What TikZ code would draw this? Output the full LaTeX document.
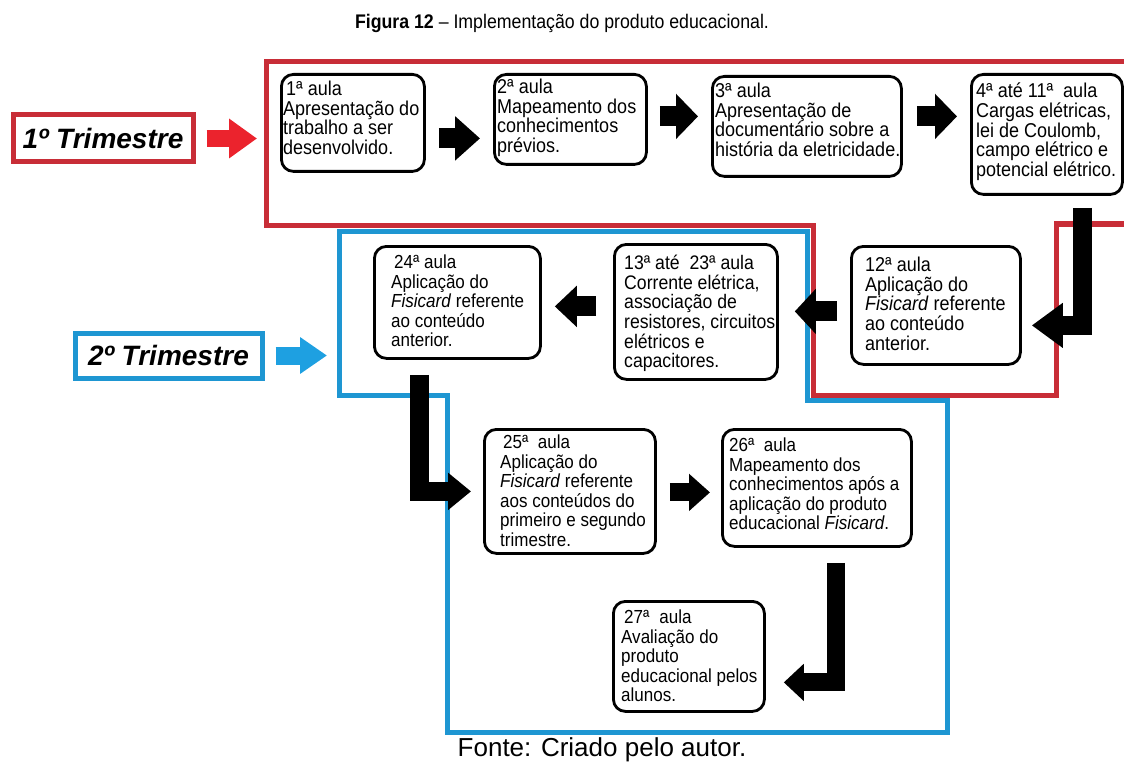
\documentclass[tikz,border=0pt]{standalone}
\usepackage{fontspec}
\setmainfont{Liberation Sans}
\newfontfamily\boxfam{Liberation Sans}[FakeStretch=0.9]
\usetikzlibrary{arrows.meta}
\definecolor{redline}{RGB}{200,45,55}
\definecolor{redarr}{RGB}{235,35,45}
\definecolor{blueline}{RGB}{30,150,210}
\definecolor{bluearr}{RGB}{30,160,225}
\newcommand{\fA}{\boxfam\fontsize{20}{19.6}\selectfont}
\newcommand{\fB}{\boxfam\fontsize{19.6}{19.6}\selectfont}
\newcommand{\fC}{\boxfam\fontsize{18.9}{19.5}\selectfont}
\begin{document}
\begin{tikzpicture}[x=1pt,y=-1pt,
  aula/.style={draw=black, line width=2.8pt, rounded corners=12pt, inner sep=0pt, anchor=north west},
  txt/.style={anchor=north west, inner sep=0pt, align=left},
  lab/.style={line width=5pt, inner sep=0pt, font=\fontsize{28}{30}\selectfont\bfseries\itshape},
  frame/.style={line width=5pt, line join=miter},
  blkarrow/.style n args={3}{draw=black, line width=#1, line join=miter, line cap=butt, -{Triangle[length=#2,width=#3]}}
]
\useasboundingbox (0,0) rectangle (1124,762);

% title and source
\node[anchor=base, inner sep=0pt, font=\boxfam\fontsize{19.7}{21}\selectfont] (title) at (562,29) {\textbf{Figura 12} – Implementação do produto educacional.};
\node[anchor=base, inner sep=0pt, font=\fontsize{26}{28}\selectfont] (fonte) at (602,756) {Fonte: Criado pelo autor.};

% frames
\draw[frame, draw=redline] (1130,62) -- (266,62) -- (266,225) -- (813,225) -- (813,395) -- (1056,395) -- (1056,224) -- (1130,224);
\draw[frame, draw=blueline] (339,231) -- (807,231) -- (807,400) -- (947,400) -- (947,732) -- (447,732) -- (447,395) -- (339,395) -- cycle;

% trimester labels
\node[lab, draw=redline, minimum width=180pt, minimum height=47pt] (t1) at (103,138.5) {1º Trimestre};
\node[lab, draw=blueline, minimum width=187pt, minimum height=45pt] (t2) at (168.5,355.5) {2º Trimestre};
\coordinate (redL) at (266,138.5);
\coordinate (blueL) at (339,355.5);
\draw[blkarrow={17pt}{28pt}{38pt}, draw=redarr, shorten <=11pt, shorten >=9pt] (t1.east) -- (redL);
\draw[blkarrow={18pt}{27pt}{35pt}, draw=bluearr, shorten <=11pt, shorten >=12pt] (t2.east) -- (blueL);

% boxes
\node[aula, minimum width=143pt, minimum height=97pt] (b1) at (280,73) {};
\node[txt, font=\fA] (x1) at ([shift={(3pt,-8pt)}]b1.north west) {\hspace{3pt}1ª aula\\Apresentação do\\trabalho a ser\\desenvolvido.};

\node[aula, minimum width=152pt, minimum height=90pt] (b2) at (493,73) {};
\node[txt, font=\fA] (x2) at ([shift={(4pt,-6pt)}]b2.north west) {2ª aula\\Mapeamento dos\\conhecimentos\\prévios.};

\node[aula, minimum width=189pt, minimum height=100pt] (b3) at (711,75) {};
\node[txt, font=\fA] (x3) at ([shift={(4pt,-8pt)}]b3.north west) {3ª aula\\Apresentação de\\documentário sobre a\\história da eletricidade.};

\node[aula, minimum width=151pt, minimum height=120pt] (b4) at (970,73) {};
\node[txt, font=\fA] (x4) at ([shift={(6pt,-10pt)}]b4.north west) {4ª até 11ª\ \ aula\\Cargas elétricas,\\lei de Coulomb,\\campo elétrico e\\potencial elétrico.};

\node[aula, minimum width=169pt, minimum height=118pt] (b12) at (850,245) {};
\node[txt, font=\fA] (x12) at ([shift={(15pt,-12pt)}]b12.north west) {12ª aula\\Aplicação do\\\textit{Fisicard} referente\\ao conteúdo\\anterior.};

\node[aula, minimum width=163pt, minimum height=135pt] (b13) at (613,243) {};
\node[txt, font=\fB] (x13) at ([shift={(11pt,-12pt)}]b13.north west) {13ª até\ \ 23ª aula\\Corrente elétrica,\\associação de\\resistores, circuitos\\elétricos e\\capacitores.};

\node[aula, minimum width=166pt, minimum height=112pt] (b24) at (373,245) {};
\node[txt, font=\fC] (x24) at ([shift={(18pt,-10pt)}]b24.north west) {\hspace{3pt}24ª aula\\Aplicação do\\\textit{Fisicard} referente\\ao conteúdo\\anterior.};

\node[aula, minimum width=171pt, minimum height=124pt] (b25) at (483,428) {};
\node[txt, font=\fC] (x25) at ([shift={(17pt,-7pt)}]b25.north west) {\hspace{3pt}25ª\ \ aula\\Aplicação do\\\textit{Fisicard} referente\\aos conteúdos do\\primeiro e segundo\\trimestre.};

\node[aula, minimum width=189pt, minimum height=117pt] (b26) at (721,428) {};
\node[txt, font=\fC] (x26) at ([shift={(8pt,-10pt)}]b26.north west) {26ª\ \ aula\\Mapeamento dos\\conhecimentos após a\\aplicação do produto\\educacional \textit{Fisicard}.};

\node[aula, minimum width=151pt, minimum height=110pt] (b27) at (612,600) {};
\node[txt, font=\fC] (x27) at ([shift={(9pt,-10pt)}]b27.north west) {\hspace{3pt}27ª\hspace{10pt}aula\\Avaliação do\\produto\\educacional pelos\\alunos.};

% black block arrows
\draw[blkarrow={20pt}{25pt}{43pt}, shorten <=13pt, shorten >=13pt] ([yshift=-15.5pt]b1.east) -- ([yshift=-19pt]b2.west);
\draw[blkarrow={20pt}{22pt}{44pt}, shorten <=12pt, shorten >=13pt] ([yshift=3pt]b2.east) -- ([yshift=10pt]b3.west);
\draw[blkarrow={20pt}{22pt}{44pt}, shorten <=14pt, shorten >=13pt] ([yshift=10pt]b3.east) -- ([yshift=18pt]b4.west);
\draw[blkarrow={19pt}{31pt}{43pt}, shorten <=12pt, shorten >=10pt] ([xshift=35.5pt]b4.south) |- ([yshift=-20pt]b12.east);
\draw[blkarrow={20pt}{21pt}{44pt}, shorten <=13pt, shorten >=16pt] ([yshift=-6pt]b12.west) -- ([yshift=0.5pt]b13.east);
\draw[blkarrow={20pt}{22pt}{40pt}, shorten <=17pt, shorten >=13pt] ([yshift=5.5pt]b13.west) -- ([yshift=-4pt]b24.east);
\draw[blkarrow={19pt}{23pt}{36pt}, shorten <=15pt, shorten >=12pt] ([xshift=-38pt]b24.south) |- (b25.west);
\draw[blkarrow={18pt}{21pt}{36pt}, shorten <=13pt, shorten >=11pt] ([yshift=-1pt]b25.east) -- ([yshift=-4.5pt]b26.west);
\draw[blkarrow={18pt}{20pt}{36pt}, shorten <=15pt, shorten >=18pt] ([xshift=19.5pt]b26.south) |- ([yshift=-26pt]b27.east);
\end{tikzpicture}
\end{document}
